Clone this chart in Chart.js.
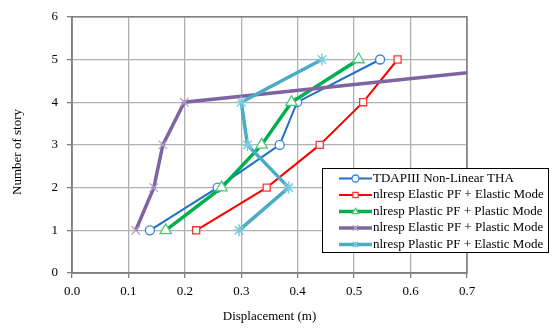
<!DOCTYPE html>
<html><head><meta charset="utf-8">
<script src="https://cdn.jsdelivr.net/npm/chart.js@4/dist/chart.umd.min.js"></script>
<style>html,body{margin:0;padding:0;background:#fff;}#wrap{width:558px;height:330px;position:relative;}</style>
</head><body><div id="wrap"><canvas id="c" width="558" height="330"></canvas></div>
<script>
const stories = [1, 2, 3, 4, 5];
const tdapNonLinear = [0.138, 0.258, 0.368, 0.399, 0.546];
const elasticPfElasticMode = [0.220, 0.345, 0.439, 0.516, 0.577];
const plasticPfPlasticMode = [0.166, 0.265, 0.336, 0.389, 0.508];
const elasticPfPlasticMode = [0.113, 0.145, 0.161, 0.199, 0.925];
const plasticPfElasticMode = [0.296, 0.384, 0.311, 0.300, 0.443];
const seriesNames = ["TDAPIII Non-Linear THA", "nlresp Elastic PF + Elastic Mode", "nlresp Plastic PF + Plastic Mode", "nlresp Elastic PF + Plastic Mode", "nlresp Plastic PF + Elastic Mode"];
const xTicks = [0, 0.1, 0.2, 0.3, 0.4, 0.5, 0.6, 0.7];
const yTicks = [0, 1, 2, 3, 4, 5, 6];
const xTitle = 'Displacement (m)';
const yTitle = 'Number of story';

const FONT = "'Liberation Serif', 'Times New Roman', serif";
const styles = [
  {c:'#1F6FC5', pc:'#2E86DE', w:2, ps:'circle', r:4.5, pw:1.3},
  {c:'#FF0000', pc:'#FF3333', w:2, ps:'rect', r:5, pw:1.3},
  {c:'#00B050', pc:'#4FC97A', w:3.5, ps:'triangle', r:6.5, pw:1.3},
  {c:'#8064A2', pc:'#B3A2C7', w:3.5, ps:'crossRot', r:6, pw:1.3},
  {c:'#4BACC6', pc:'#7FCBDC', w:3.5, ps:'star', r:6, pw:1.5}
];
const allSeries = [tdapNonLinear, elasticPfElasticMode, plasticPfPlasticMode, elasticPfPlasticMode, plasticPfElasticMode];

const datasets = allSeries.map((vals, i) => ({
  label: seriesNames[i],
  data: vals.map((v, k) => ({x: v, y: stories[k]})),
  showLine: true,
  borderColor: styles[i].c,
  borderWidth: styles[i].w,
  pointStyle: styles[i].ps,
  pointRadius: styles[i].r,
  pointBorderColor: styles[i].pc,
  pointBackgroundColor: '#fff',
  pointBorderWidth: styles[i].pw,
  order: 5 - i,
  tension: 0
}));

function drawMarker(ctx, style, x, y, r) {
  ctx.beginPath();
  if (style === 'circle') { ctx.arc(x, y, r, 0, Math.PI*2); ctx.fill(); ctx.stroke(); }
  else if (style === 'rect') { const s=r*0.75; ctx.rect(x-s, y-s, 2*s, 2*s); ctx.fill(); ctx.stroke(); }
  else if (style === 'triangle') { ctx.moveTo(x, y-r*0.7); ctx.lineTo(x+r*0.7, y+r*0.45); ctx.lineTo(x-r*0.7, y+r*0.45); ctx.closePath(); ctx.fill(); ctx.stroke(); }
  else if (style === 'crossRot') { const s=r*0.6; ctx.moveTo(x-s,y-s); ctx.lineTo(x+s,y+s); ctx.moveTo(x+s,y-s); ctx.lineTo(x-s,y+s); ctx.stroke(); }
  else if (style === 'star') { const s=r*0.6; ctx.moveTo(x-s,y-s); ctx.lineTo(x+s,y+s); ctx.moveTo(x+s,y-s); ctx.lineTo(x-s,y+s); ctx.moveTo(x,y-s); ctx.lineTo(x,y+s); ctx.stroke(); }
}

const frameAndLegend = {
  id: 'frameAndLegend',
  beforeDatasetsDraw(chart) {
    const {ctx, chartArea: a} = chart;
    ctx.save();
    ctx.strokeStyle = '#7f7f7f';
    ctx.lineWidth = 1.5;
    ctx.strokeRect(a.left, a.top, a.right - a.left, a.bottom - a.top);
    ctx.restore();
  },
  afterDraw(chart) {
    const ctx = chart.ctx;
    ctx.save();
    // y axis title (slightly below axis centre, as in the reference)
    ctx.translate(18, 152);
    ctx.rotate(-Math.PI / 2);
    ctx.font = '13px ' + FONT;
    ctx.fillStyle = '#000';
    ctx.textAlign = 'center';
    ctx.textBaseline = 'middle';
    ctx.fillText(yTitle, 0, 0);
    ctx.restore();

    const bx = 322.5, by = 168.5, bw = 226, bh = 84;
    ctx.save();
    ctx.fillStyle = '#fff';
    ctx.fillRect(bx, by, bw, bh);
    ctx.strokeStyle = '#000';
    ctx.lineWidth = 1;
    ctx.strokeRect(bx, by, bw, bh);
    ctx.font = '13px ' + FONT;
    ctx.textBaseline = 'middle';
    seriesNames.forEach((name, i) => {
      const y = by + 10 + i * 16.5;
      const s = styles[i];
      ctx.strokeStyle = s.c;
      ctx.lineWidth = s.w;
      ctx.beginPath(); ctx.moveTo(339, y); ctx.lineTo(372, y); ctx.stroke();
      ctx.strokeStyle = s.pc; ctx.fillStyle = '#fff'; ctx.lineWidth = s.pw;
      drawMarker(ctx, s.ps, 355.5, y, i >= 2 ? 4.5 : 3.5);
      ctx.fillStyle = '#000';
      ctx.fillText(name, 373, y);
    });
    ctx.restore();
  }
};

new Chart(document.getElementById('c'), {
  type: 'scatter',
  data: {datasets},
  options: {
    responsive: false,
    animation: false,
    layout: {padding: {top: 15, right: 91, left: 6, bottom: 2}},
    plugins: {legend: {display: false}, tooltip: {enabled: false}},
    scales: {
      x: {
        type: 'linear', min: 0, max: 0.7,
        afterBuildTicks(s) { s.ticks = xTicks.map(v => ({value: v})); },
        ticks: {font: {family: FONT, size: 13}, color: '#000', padding: 6, callback: v => Number(v).toFixed(1), maxRotation: 0},
        grid: {color: '#b0b0b0', lineWidth: 1.3, tickLength: 5, tickColor: '#7f7f7f'},
        border: {color: '#7f7f7f', width: 1.5},
        title: {display: true, text: xTitle, font: {family: FONT, size: 13}, color: '#000', padding: {top: 9}},
        afterFit(s) { s.height = 330 - 273 - 2; }
      },
      y: {
        type: 'linear', min: 0, max: 6,
        afterBuildTicks(s) { s.ticks = yTicks.map(v => ({value: v})); },
        ticks: {font: {family: FONT, size: 13}, color: '#000', padding: 9},
        grid: {color: '#b0b0b0', lineWidth: 1.3, tickLength: 5, tickColor: '#7f7f7f'},
        border: {color: '#7f7f7f', width: 1.5},
        title: {display: false},
        afterFit(s) { s.width = 72 - 6; }
      }
    }
  },
  plugins: [frameAndLegend]
});
</script></body></html>
